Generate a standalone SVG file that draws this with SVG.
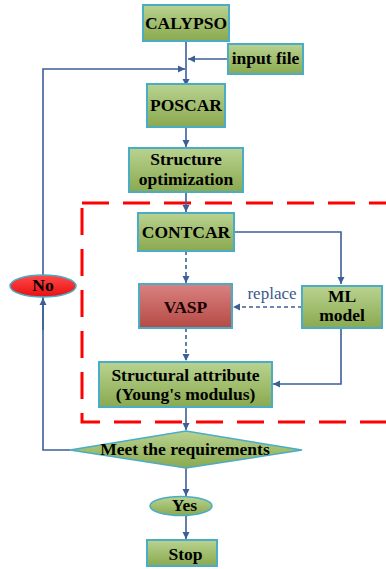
<svg xmlns="http://www.w3.org/2000/svg" width="386" height="569" viewBox="0 0 386 569">
<defs>
<linearGradient id="gG" x1="0" y1="0" x2="0" y2="1"><stop offset="0" stop-color="#b9d390"/><stop offset="1" stop-color="#8aa94f"/></linearGradient>
<linearGradient id="gR" x1="0" y1="0" x2="0" y2="1"><stop offset="0" stop-color="#d98280"/><stop offset="1" stop-color="#b54a46"/></linearGradient>
<linearGradient id="gN" x1="0" y1="0" x2="0" y2="1"><stop offset="0" stop-color="#ff4a4a"/><stop offset="1" stop-color="#e80f0f"/></linearGradient>
<marker id="ah" markerUnits="userSpaceOnUse" markerWidth="8" markerHeight="8" refX="7" refY="4" orient="auto"><path d="M0,0.5 L7,4 L0,7.5 z" fill="#3b5f96"/></marker>
<style>
.box{fill:url(#gG);stroke:#4bacc6;stroke-width:2}
.t{font-family:"Liberation Serif",serif;font-size:17.5px;font-weight:bold;fill:#000;text-anchor:middle}
.c{fill:none;stroke:#3b5f96;stroke-width:1.6}
.d{stroke-dasharray:4 3}
</style>
</defs>
<rect x="82" y="203" width="330" height="219" fill="none" stroke="#ff0000" stroke-width="3" stroke-dasharray="27 14"/>
<g id="connectors">
<path class="c" d="M186 41 V86" marker-end="url(#ah)"/>
<path class="c" d="M228 59 H188" marker-end="url(#ah)"/>
<path class="c" d="M70 450 H43 V69 H185" marker-end="url(#ah)"/>
<path class="c" d="M43 330 V298" marker-end="url(#ah)"/>
<path class="c" d="M186 127 V147" marker-end="url(#ah)"/>
<path class="c" d="M186 192 V212" marker-end="url(#ah)"/>
<path class="c" d="M234 232 H341 V284" marker-end="url(#ah)"/>
<path class="c d" d="M186 251 V283" marker-end="url(#ah)"/>
<path class="c d" d="M302 307 H233" marker-end="url(#ah)"/>
<path class="c d" d="M186 328 V361" marker-end="url(#ah)"/>
<path class="c" d="M341 328 V384 H273" marker-end="url(#ah)"/>
<path class="c" d="M186 407 V430" marker-end="url(#ah)"/>
<path class="c" d="M186 468 V496" marker-end="url(#ah)"/>
<path class="c" d="M186 515 V539" marker-end="url(#ah)"/>
<text x="272" y="299" font-family="Liberation Serif,serif" font-size="17" fill="#3b5a8a" text-anchor="middle">replace</text>
</g>
<g id="calypso"><rect class="box" x="143" y="5" width="86" height="36"/><text class="t" x="186" y="29">CALYPSO</text></g>
<g id="inputfile"><rect class="box" x="228" y="44" width="75" height="30"/><text class="t" x="265.5" y="64">input file</text></g>
<g id="poscar"><rect class="box" x="147" y="84" width="78" height="43"/><text class="t" x="186" y="111">POSCAR</text></g>
<g id="structopt"><rect class="box" x="129" y="148" width="114" height="44"/><text class="t" x="186" y="165">Structure</text><text class="t" x="186" y="185">optimization</text></g>
<g id="contcar"><rect class="box" x="138" y="213" width="96" height="38"/><text class="t" x="186" y="238">CONTCAR</text></g>
<g id="vasp"><rect x="139" y="284" width="93" height="44" fill="url(#gR)" stroke="#4bacc6" stroke-width="2"/><text class="t" x="185.5" y="313" style="fill:#1a0000">VASP</text></g>
<g id="ml"><rect class="box" x="302" y="286" width="80" height="42"/><text class="t" x="342" y="302">ML</text><text class="t" x="342" y="321">model</text></g>
<g id="structattr"><rect class="box" x="99" y="362" width="173" height="45"/><text class="t" x="185.5" y="381">Structural attribute</text><text class="t" x="185.5" y="400">(Young's modulus)</text></g>
<g id="meet"><polygon points="186,431 302,450 186,468 70,450" fill="url(#gG)" stroke="#4bacc6" stroke-width="1.5"/><text class="t" x="185" y="455">Meet the requirements</text></g>
<g id="no"><ellipse cx="43" cy="286" rx="33" ry="11" fill="url(#gN)" stroke="#4bacc6" stroke-width="1.5"/><text class="t" x="43" y="291">No</text></g>
<g id="yes"><ellipse cx="181" cy="506" rx="31" ry="9.5" fill="url(#gG)" stroke="#4bacc6" stroke-width="1.5"/><text class="t" x="184.5" y="511">Yes</text></g>
<g id="stop"><rect class="box" x="147" y="540" width="70" height="26"/><text class="t" x="185.5" y="560">Stop</text></g>
</svg>
